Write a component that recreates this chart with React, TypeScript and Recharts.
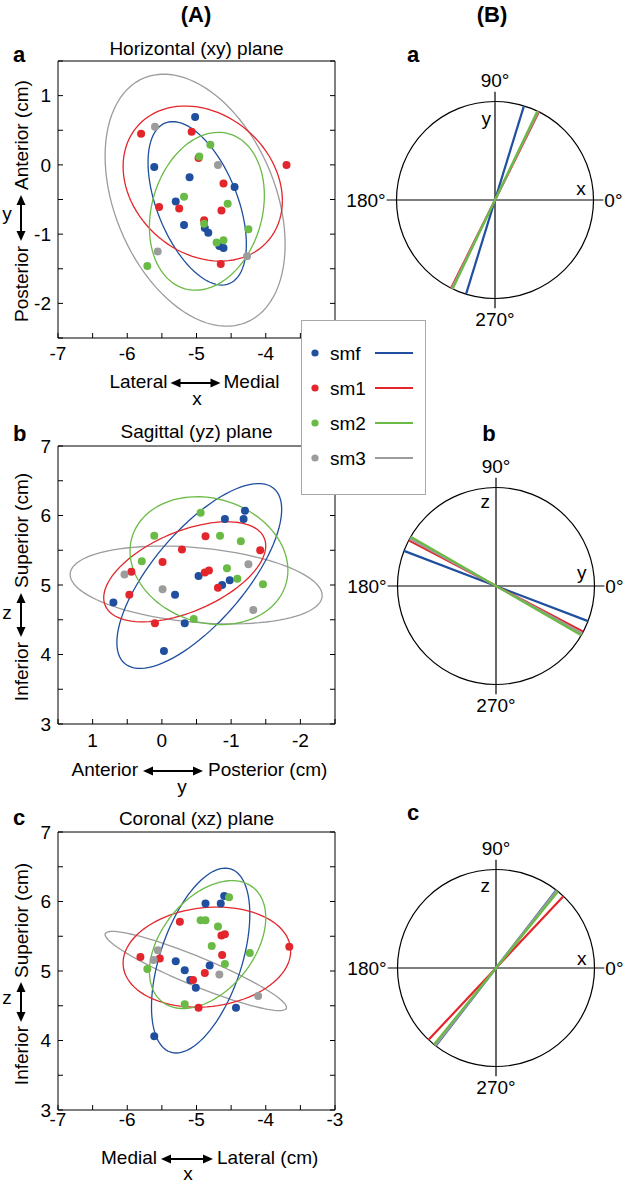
import React from "react";
import { ScatterChart, Scatter, XAxis, YAxis, ReferenceLine, ReferenceDot } from "recharts";

const FONT = '"Liberation Sans", Arial, Helvetica, sans-serif';

const seriesNames = ["smf", "sm1", "sm2", "sm3"];
const seriesColors = ["#1f4f9e", "#e3262b", "#6abb46", "#9c9c9c"];

// tick positions (labels only on whole numbers)
const ticksX7to3 = [-7, -6.5, -6, -5.5, -5, -4.5, -4, -3.5, -3];
const ticksY25to15 = [-2.5, -2, -1.5, -1, -0.5, 0, 0.5, 1, 1.5];
const ticksY25to15Rev = [-2.5, -2, -1.5, -1, -0.5, 0, 0.5, 1, 1.5];
const ticks3to7 = [3, 3.5, 4, 4.5, 5, 5.5, 6, 6.5, 7];

// Horizontal (xy) plane: [x, y] in cm
const xySmf = [[-5.02, 0.69], [-5.61, -0.03], [-5.1, -0.18], [-5.3, -0.53], [-5.18, -0.87], [-4.88, -0.91], [-4.83, -0.98], [-4.45, -0.32], [-4.67, -1.17], [-4.61, -1.2]];
const xySm1 = [[-5.8, 0.45], [-5.07, 0.48], [-4.97, 0.1], [-4.61, -0.27], [-5.54, -0.61], [-5.25, -0.63], [-4.64, -0.66], [-4.89, -0.8], [-4.65, -1.43], [-3.7, 0.0]];
const xySm2 = [[-4.96, 0.12], [-4.8, 0.29], [-5.18, -0.46], [-4.55, -0.56], [-4.89, -0.85], [-4.25, -0.93], [-4.71, -1.12], [-4.61, -1.09], [-5.71, -1.46]];
const xySm3 = [[-5.6, 0.55], [-4.69, 0.0], [-5.56, -1.25], [-4.27, -1.32]];
// ellipse: centre x, centre y, half extent x, half extent y, tilt (correlation)
const xyEllipses = [[-4.99, -0.555, 0.71, 1.18, -0.5], [-4.91, -0.27, 1.15, 1.12, -0.22], [-4.85, -0.67, 0.83, 1.14, 0.2], [-5.02, -0.51, 1.3, 1.82, -0.35]];
const xyAngles = [72.9, 63.5, 64.5, 64];

// Sagittal (yz) plane: [y, z] in cm
const yzSmf = [[0.7, 4.75], [-0.19, 4.86], [-0.33, 4.45], [-0.03, 4.05], [-0.53, 5.13], [-0.87, 5.0], [-0.98, 5.07], [-0.91, 5.95], [-1.18, 5.95], [-1.2, 6.07]];
const yzSm1 = [[0.44, 5.19], [0.47, 4.86], [0.1, 4.45], [-0.01, 5.33], [-0.29, 5.51], [-0.63, 5.7], [-0.62, 5.18], [-0.68, 5.21], [-0.81, 4.96], [-1.42, 5.5]];
const yzSm2 = [[0.11, 5.71], [0.29, 5.34], [-0.56, 6.04], [-0.84, 5.71], [-1.14, 5.63], [-0.94, 5.24], [-1.09, 5.09], [-1.46, 5.01], [-0.46, 4.51]];
const yzSm3 = [[0.54, 5.15], [-0.01, 4.94], [-1.25, 5.3], [-1.32, 4.64]];
const yzEllipses = [[-0.54, 5.13, 1.19, 1.33, -0.72], [-0.33, 5.19, 1.17, 0.72, -0.52], [-0.68, 5.35, 1.14, 0.92, 0.15], [-0.495, 5.0, 1.82, 0.56, 0.27]];
const yzAngles = [159.1, 152.4, 150.0, 151.2];

// Coronal (xz) plane: [x, z] in cm
const xzSmf = [[-5.61, 4.06], [-5.3, 5.14], [-5.17, 5.01], [-5.09, 4.87], [-5.01, 4.76], [-4.81, 5.08], [-4.87, 5.97], [-4.65, 5.97], [-4.6, 6.08], [-4.43, 4.47]];
const xzSm1 = [[-5.81, 5.2], [-5.53, 5.18], [-5.24, 5.71], [-5.05, 4.87], [-4.88, 4.97], [-4.97, 4.47], [-4.63, 5.23], [-4.64, 5.51], [-4.59, 5.53], [-3.66, 5.35]];
const xzSm2 = [[-5.71, 5.03], [-5.17, 4.52], [-4.94, 5.73], [-4.87, 5.73], [-4.69, 5.64], [-4.78, 5.36], [-4.59, 5.1], [-4.53, 6.06], [-4.23, 5.26]];
const xzSm3 = [[-5.56, 5.3], [-5.62, 5.16], [-4.67, 4.95], [-4.11, 4.64]];
const xzEllipses = [[-4.94, 5.15, 0.71, 1.33, 0.5], [-4.85, 5.2, 1.21, 0.72, 0.12], [-4.84, 5.38, 0.84, 0.92, 0.42], [-5.01, 5.0, 1.31, 0.57, -0.92]];
const xzAngles = [52.3, 46.8, 51.0, 52.0];

const toPts = (arr: number[][]) => arr.map(([x, y]) => ({ x, y }));

const ellipsePoints = (e: number[]) => {
  const [cx, cy, rx, ry, rho] = e;
  const phi = Math.acos(rho);
  const pts: { x: number; y: number }[] = [];
  for (let i = 0; i <= 96; i++) {
    const t = (i / 96) * 2 * Math.PI;
    pts.push({ x: cx + rx * Math.cos(t), y: cy + ry * Math.cos(t - phi) });
  }
  return pts;
};

// whole-number labels only; "hidden" = label covered by the legend box
const intLabel = (hidden: number[]) => (v: number) =>
  Number.isInteger(v) && !hidden.includes(v) ? String(v) : "";
const tickStyle = { fill: "#000", fontSize: 19, fontFamily: FONT };

const makeDot = (color: string) => (p: any) => <circle cx={p.cx} cy={p.cy} r={4} fill={color} />;
const noDot = () => <g />;

const Arrow = ({ half }: { half: number }) => (
  <g>
    <line x1={-half + 6} y1={0} x2={half - 6} y2={0} stroke="#000" strokeWidth={2} />
    <polygon points={`${-half},0 ${-half + 10},-4.5 ${-half + 10},4.5`} fill="#000" />
    <polygon points={`${half},0 ${half - 10},-4.5 ${half - 10},4.5`} fill="#000" />
  </g>
);

const panels = [
  {
    top: 0, height: 410, mTop: 60, mBottom: 42,
    xDomain: [-7, -3], xTicks: ticksX7to3, xHidden: [-3], yDomain: [-2.5, 1.5], yTicks: ticksY25to15, reversed: false, xTickMargin: 14,
    points: [xySmf, xySm1, xySm2, xySm3], ellipses: xyEllipses,
    title: "Horizontal (xy) plane", titleY: 55, letter: "a", letterY: 62,
    xl: { left: "Lateral", right: "Medial", sym: "x", cx: 195.5, gap: 28, half: 25, base: 388, arrowY: 383, symX: 197, symY: 405 },
    yl: { left: "Posterior", right: "Anterior (cm)", sym: "y", cy: 218, gap: 28, half: 23, symY: 220 },
  },
  {
    top: 380, height: 420, mTop: 65, mBottom: 46,
    xDomain: [-2.5, 1.5], xTicks: ticksY25to15Rev, xHidden: [], yDomain: [3, 7], yTicks: ticks3to7, reversed: true, xTickMargin: 15,
    points: [yzSmf, yzSm1, yzSm2, yzSm3], ellipses: yzEllipses,
    title: "Sagittal (yz) plane", titleY: 438, letter: "b", letterY: 441,
    xl: { left: "Anterior", right: "Posterior (cm)", sym: "y", cx: 173, gap: 35, half: 30, base: 776, arrowY: 771, symX: 182, symY: 793 },
    yl: { left: "Inferior", right: "Superior (cm)", sym: "z", cy: 615, gap: 27, half: 22, symY: 619 },
  },
  {
    top: 780, height: 405, mTop: 51, mBottom: 45,
    xDomain: [-7, -3], xTicks: ticksX7to3, xHidden: [], yDomain: [3, 7], yTicks: ticks3to7, reversed: false, xTickMargin: 8,
    points: [xzSmf, xzSm1, xzSm2, xzSm3], ellipses: xzEllipses,
    title: "Coronal (xz) plane", titleY: 825, letter: "c", letterY: 825,
    xl: { left: "Medial", right: "Lateral (cm)", sym: "x", cx: 187, gap: 30, half: 26, base: 1164, arrowY: 1159, symX: 188, symY: 1180 },
    yl: { left: "Inferior", right: "Superior (cm)", sym: "z", cy: 1002, gap: 24, half: 20, symY: 1004 },
  },
];

const circles = [
  { left: 340, top: 0, height: 360, margin: { top: 75, left: 30, right: 5, bottom: 35 }, angles: xyAngles, letter: "a", letterX: 67, letterY: 62, anchor: "start", h: "x", v: "y", hPos: [0.873, 0.122], vPos: [-0.09, 0.83], head: true },
  { left: 340, top: 400, height: 350, margin: { top: 61, left: 31, right: 4, bottom: 39 }, angles: yzAngles, letter: "b", letterX: 149, letterY: 41, anchor: "middle", h: "y", v: "z", hPos: [0.87, 0.14], vPos: [-0.11, 0.86], head: false },
  { left: 340, top: 790, height: 370, margin: { top: 53, left: 31, right: 4, bottom: 67 }, angles: xzAngles, letter: "c", letterX: 67, letterY: 30, anchor: "start", h: "x", v: "z", hPos: [0.87, 0.1], vPos: [-0.11, 0.84], head: false },
];

const R = 98.5;
const D = 125 / R;
const drawOrder = [0, 1, 3, 2];

const LeftPanel = ({ p, first }: { p: (typeof panels)[number]; first: boolean }) => {
  const t = p.top;
  return (
    <div style={{ position: "absolute", left: 0, top: t }}>
      <ScatterChart width={345} height={p.height} margin={{ top: p.mTop, right: 9, bottom: p.mBottom, left: 18 }}>
        <XAxis type="number" dataKey="x" domain={p.xDomain} ticks={p.xTicks} reversed={p.reversed} allowDataOverflow interval={0}
          tickFormatter={intLabel(p.xHidden)} tick={tickStyle} tickSize={-5} tickMargin={p.xTickMargin} height={30}
          axisLine={{ stroke: "#000" }} tickLine={{ stroke: "#000" }} />
        <XAxis xAxisId="top" orientation="top" type="number" domain={p.xDomain} ticks={p.xTicks} reversed={p.reversed} allowDataOverflow interval={0}
          tickFormatter={() => ""} tickSize={-5} height={1} axisLine={{ stroke: "#000" }} tickLine={{ stroke: "#000" }} />
        <YAxis type="number" dataKey="y" domain={p.yDomain} ticks={p.yTicks} allowDataOverflow interval={0}
          tickFormatter={intLabel([])} tick={tickStyle} tickSize={-5} tickMargin={12} width={40}
          axisLine={{ stroke: "#000" }} tickLine={{ stroke: "#000" }} />
        <YAxis yAxisId="right" orientation="right" type="number" domain={p.yDomain} ticks={p.yTicks} allowDataOverflow interval={0}
          tickFormatter={() => ""} tickSize={-5} width={1} axisLine={{ stroke: "#000" }} tickLine={{ stroke: "#000" }} />
        {[3, 0, 1, 2].map((i) => (
          <Scatter key={"e" + i} data={ellipsePoints(p.ellipses[i])} line={{ stroke: seriesColors[i], strokeWidth: 1.3 }}
            shape={noDot} isAnimationActive={false} />
        ))}
        {[0, 1, 2, 3].map((i) => (
          <Scatter key={"p" + i} name={seriesNames[i]} data={toPts(p.points[i])} fill={seriesColors[i]}
            shape={makeDot(seriesColors[i])} isAnimationActive={false} />
        ))}
        <g fontFamily={FONT} fill="#000">
          {first && (
            <text x={196} y={22 - t} textAnchor="middle" fontSize={22} fontWeight="bold">(A)</text>
          )}
          <text x={13} y={p.letterY - t} fontSize={22} fontWeight="bold">{p.letter}</text>
          <text x={196.5} y={p.titleY - t} textAnchor="middle" fontSize={19}>{p.title}</text>
          <text x={p.xl.cx - p.xl.gap} y={p.xl.base - t} textAnchor="end" fontSize={19}>{p.xl.left}</text>
          <text x={p.xl.cx + p.xl.gap} y={p.xl.base - t} textAnchor="start" fontSize={19}>{p.xl.right}</text>
          <g transform={`translate(${p.xl.cx},${p.xl.arrowY - t})`}><Arrow half={p.xl.half} /></g>
          <text x={p.xl.symX} y={p.xl.symY - t} textAnchor="middle" fontSize={19}>{p.xl.sym}</text>
          <g transform={`translate(28,${p.yl.cy - t}) rotate(-90)`}>
            <text x={-p.yl.gap} y={0} textAnchor="end" fontSize={19}>{p.yl.left}</text>
            <text x={p.yl.gap} y={0} textAnchor="start" fontSize={19}>{p.yl.right}</text>
            <g transform="translate(0,-7)"><Arrow half={p.yl.half} /></g>
          </g>
          <text x={7} y={p.yl.symY - t} textAnchor="middle" fontSize={19}>{p.yl.sym}</text>
        </g>
      </ScatterChart>
    </div>
  );
};

const degLabel = (value: string, position: string, offset: number) => ({ value, position, offset, fill: "#000", fontSize: 19, fontFamily: FONT });

const CirclePanel = ({ c }: { c: (typeof circles)[number] }) => (
  <div style={{ position: "absolute", left: c.left, top: c.top }}>
    <ScatterChart width={285} height={c.height} margin={c.margin}>
      <XAxis type="number" dataKey="x" domain={[-D, D]} hide allowDataOverflow />
      <YAxis type="number" dataKey="y" domain={[-D, D]} hide allowDataOverflow />
      <ReferenceDot x={0} y={0} r={R} fill="none" stroke="#000" strokeWidth={1.2} />
      <ReferenceLine segment={[{ x: -1.1, y: 0 }, { x: 1.1, y: 0 }]} stroke="#000" strokeWidth={1.2} />
      <ReferenceLine segment={[{ x: 0, y: -1.1 }, { x: 0, y: 1.1 }]} stroke="#000" strokeWidth={1.2} />
      {drawOrder.map((i) => {
        const a = (c.angles[i] * Math.PI) / 180;
        return (
          <Scatter key={i} data={[{ x: Math.cos(a), y: Math.sin(a) }, { x: -Math.cos(a), y: -Math.sin(a) }]}
            line={{ stroke: seriesColors[i], strokeWidth: 2.2 }} shape={noDot} isAnimationActive={false} />
        );
      })}
      <ReferenceDot x={1.1} y={0} r={0} fill="none" stroke="none" label={degLabel("0°", "right", 1)} />
      <ReferenceDot x={-1.1} y={0} r={0} fill="none" stroke="none" label={degLabel("180°", "left", 1)} />
      <ReferenceDot x={0} y={1.1} r={0} fill="none" stroke="none" label={degLabel("90°", "top", 5)} />
      <ReferenceDot x={0} y={-1.1} r={0} fill="none" stroke="none" label={degLabel("270°", "bottom", 4)} />
      <ReferenceDot x={c.hPos[0]} y={c.hPos[1]} r={0} fill="none" stroke="none" label={degLabel(c.h, "center", 0)} />
      <ReferenceDot x={c.vPos[0]} y={c.vPos[1]} r={0} fill="none" stroke="none" label={degLabel(c.v, "center", 0)} />
      <g fontFamily={FONT} fill="#000" fontWeight="bold" fontSize={22}>
        {c.head && <text x={152} y={22} textAnchor="middle">(B)</text>}
        <text x={c.letterX} y={c.letterY} textAnchor={c.anchor as any}>{c.letter}</text>
      </g>
    </ScatterChart>
  </div>
);

const LegendBox = () => (
  <div style={{ position: "absolute", left: 301, top: 320, width: 125, height: 175, border: "1px solid #a8a8a8", background: "#fff", boxSizing: "border-box", zIndex: 10 }}>
    <svg width={123} height={173} style={{ position: "absolute", left: 0, top: 0 }}>
      {seriesNames.map((n, i) => {
        const y = 32 + i * 35;
        return (
          <g key={n}>
            <circle cx={13} cy={y} r={3.6} fill={seriesColors[i]} />
            <text x={28} y={y + 7} fontSize={19} fontFamily={FONT} fill="#000">{n}</text>
            <line x1={73} x2={111} y1={y} y2={y} stroke={seriesColors[i]} strokeWidth={2} />
          </g>
        );
      })}
    </svg>
  </div>
);

export default function App() {
  return (
    <div style={{ position: "absolute", left: 0, top: 0, width: 625, height: 1185, background: "#fff", fontFamily: FONT }}>
      {panels.map((p, i) => (
        <LeftPanel key={i} p={p} first={i === 0} />
      ))}
      {circles.map((c, i) => (
        <CirclePanel key={i} c={c} />
      ))}
      <LegendBox />
    </div>
  );
}
